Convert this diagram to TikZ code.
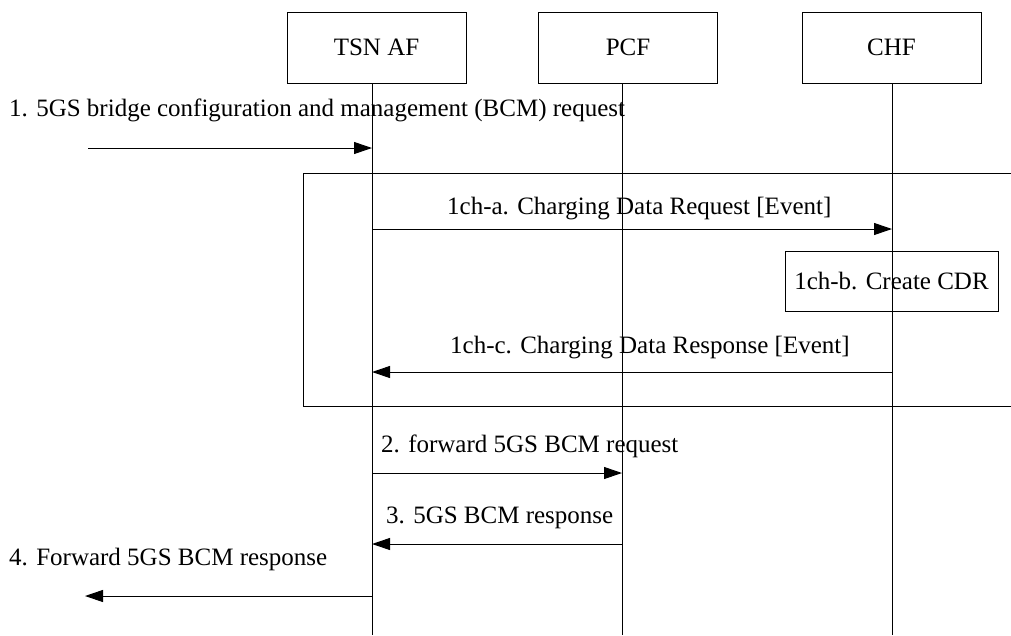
\documentclass[tikz,border=0pt]{standalone}
\usepackage{fontspec}
\setmainfont{Liberation Serif}
\usetikzlibrary{arrows.meta}
\begin{document}
\begin{tikzpicture}[x=1pt,y=-1pt,
  every node/.style={font=\fontsize{25}{30}\selectfont, inner sep=0pt},
  entity/.style={draw, line width=1pt, minimum width=179pt, minimum height=71pt},
  msg/.style={line width=1pt, -{Triangle[length=18pt,width=12pt]}},
  life/.style={line width=1pt},
  lbl/.style={anchor=base west}]
\useasboundingbox (0,0) rectangle (1011,635);
% entities
\node[entity] (tsn) at (376.5,47.5) {TSN AF};
\node[entity] (pcf) at (628,47.5) {PCF};
\node[entity] (chf) at (891.5,47.5) {CHF};
% lifeline ends
\coordinate (tsnT) at (372,83);
\coordinate (tsnB) at (372,635);
\coordinate (pcfT) at (622,83);
\coordinate (pcfB) at (622,635);
\coordinate (chfT) at (892,83);
\coordinate (chfB) at (892,635);
\draw[life] (tsnT) -- (tsnB);
\draw[life] (pcfT) -- (pcfB);
\draw[life] (chfT) -- (chfB);
% frame
\coordinate (frTR) at (1016,173);
\coordinate (frTL) at (303,173);
\coordinate (frBL) at (303,406);
\coordinate (frBR) at (1016,406);
\draw[life] (frTR) -- (frTL) -- (frBL) -- (frBR);
% message 1
\node[lbl] (l1) at (9,116) {1. 5GS bridge configuration and management (BCM) request};
\coordinate (s1) at (88,148);
\coordinate (e1) at (372,148);
\draw[msg] (s1) -- (e1);
% 1ch-a
\node[lbl] (la) at (447,214) {1ch-a. Charging Data Request [Event]};
\coordinate (sa) at (372,229);
\coordinate (ea) at (892,229);
\draw[msg] (sa) -- (ea);
% 1ch-b
\node[draw, line width=1pt, minimum width=213pt, minimum height=60pt] (cdr) at (891.5,281) {1ch-b. Create CDR};
% 1ch-c
\node[lbl] (lc) at (450,353) {1ch-c. Charging Data Response [Event]};
\coordinate (sc) at (892,372);
\coordinate (ec) at (372,372);
\draw[msg] (sc) -- (ec);
% 2
\node[lbl] (l2) at (381,452) {2. forward 5GS BCM request};
\coordinate (s2) at (372,473);
\coordinate (e2) at (622,473);
\draw[msg] (s2) -- (e2);
% 3
\node[lbl] (l3) at (386,523) {3. 5GS BCM response};
\coordinate (s3) at (622,544);
\coordinate (e3) at (372,544);
\draw[msg] (s3) -- (e3);
% 4
\node[lbl] (l4) at (9,565) {4. Forward 5GS BCM response};
\coordinate (s4) at (372,596);
\coordinate (e4) at (85,596);
\draw[msg] (s4) -- (e4);
\end{tikzpicture}
\end{document}
